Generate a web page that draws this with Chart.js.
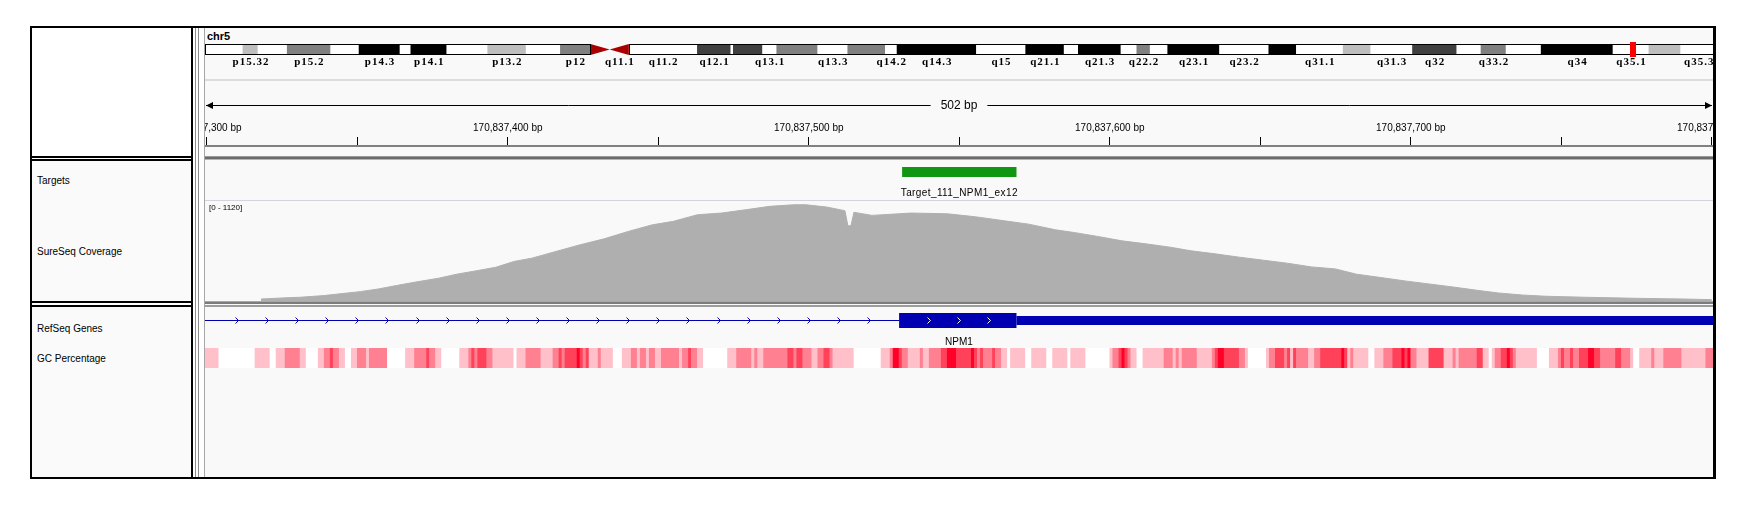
<!DOCTYPE html>
<html>
<head>
<meta charset="utf-8">
<title>chr5 NPM1 view</title>
<script src="https://cdn.jsdelivr.net/npm/chart.js@4.4.1/dist/chart.umd.min.js"></script>
<style>
html, body { margin: 0; padding: 0; background: #fff; }
body { position: relative; width: 1748px; height: 509px; overflow: hidden; font-family: "Liberation Sans", Arial, sans-serif; }
.r { position: absolute; }
.lbl { position: absolute; font-size: 10px; line-height: 12px; color: #000; white-space: nowrap; }
canvas { position: absolute; }
</style>
</head>
<body>
<!-- outer frame, name panels -->
<div class="r" style="left:30px;top:26px;width:1686px;height:453px;background:#000"></div>
<div class="r" style="left:32px;top:28px;width:159px;height:128px;background:#fff"></div>
<div class="r" style="left:32px;top:158px;width:159px;height:1px;background:#fff"></div>
<div class="r" style="left:32px;top:161px;width:159px;height:140px;background:#fafafa"></div>
<div class="r" style="left:32px;top:303px;width:159px;height:2px;background:#fff"></div>
<div class="r" style="left:32px;top:307px;width:159px;height:170px;background:#fafafa"></div>
<!-- split pane divider -->
<div class="r" style="left:193px;top:28px;width:12px;height:449px;background:#fff"></div>
<div class="r" style="left:195px;top:28px;width:1px;height:449px;background:#8c8c8c"></div>
<div class="r" style="left:198px;top:28px;width:1px;height:449px;background:#8c8c8c"></div>
<div class="r" style="left:204px;top:28px;width:1px;height:449px;background:#a6a6a6"></div>
<!-- data panels -->
<div class="r" style="left:205px;top:28px;width:1508px;height:449px;background:#f9f9f9"></div>
<div class="r" style="left:205px;top:79px;width:1508px;height:2px;background:#dcdcdc"></div>
<div class="r" style="left:205px;top:156px;width:1508px;height:1px;background:#9a9a9a"></div>
<div class="r" style="left:205px;top:157px;width:1508px;height:2px;background:#6c6c6c"></div>
<div class="r" style="left:205px;top:159px;width:1508px;height:1px;background:#b4b4b4"></div>
<div class="r" style="left:205px;top:200px;width:1508px;height:1px;background:#d4d4dc"></div>
<div class="r" style="left:205px;top:301px;width:1508px;height:1px;background:#a8a8a8"></div>
<div class="r" style="left:205px;top:302px;width:1508px;height:2px;background:#7c7c7c"></div>
<div class="r" style="left:205px;top:305px;width:1508px;height:2px;background:#9c9c9c"></div>

<div class="lbl" style="left:207px;top:30px;font-size:11px;font-weight:bold;line-height:13px">chr5</div>
<div class="lbl" style="left:37px;top:175px">Targets</div>
<div class="lbl" style="left:37px;top:246px">SureSeq Coverage</div>
<div class="lbl" style="left:37px;top:323px">RefSeq Genes</div>
<div class="lbl" style="left:37px;top:353px">GC Percentage</div>

<canvas id="ideo" width="1508" height="30" style="left:205px;top:38px"></canvas>
<canvas id="ruler" width="1508" height="115" style="left:205px;top:85px"></canvas>
<canvas id="target" width="1508" height="39" style="left:205px;top:161px"></canvas>
<canvas id="cov" width="1508" height="100" style="left:205px;top:201px"></canvas>
<canvas id="gene" width="1508" height="40" style="left:205px;top:308px"></canvas>
<canvas id="gc" width="1508" height="20" style="left:205px;top:348px"></canvas>

<script>
// view window, bp offsets from 170,837,000 on chr5
const posOffset = 170837000;
const viewStart = 299.4;
const viewEnd = 800.4;
const rulerTicks = [300, 350, 400, 450, 500, 550, 600, 650, 700, 750, 800];
const rulerLabelStep = 100;

// chr5 cytobands (Mb)
const bandNames = ['p15.33','p15.32','p15.31','p15.2','p15.1','p14.3','p14.2','p14.1','p13.3','p13.2','p13.1','p12','p11',
  'q11.1','q11.2','q12.1','q12.2','q12.3','q13.1','q13.2','q13.3','q14.1','q14.2','q14.3','q15','q21.1','q21.2','q21.3',
  'q22.1','q22.2','q22.3','q23.1','q23.2','q23.3','q31.1','q31.2','q31.3','q32','q33.1','q33.2','q33.3','q34','q35.1','q35.2','q35.3'];
const bandStarts = [0,4.5,6.3,9.8,15.0,18.4,23.3,24.6,28.9,33.8,38.4,42.5,46.1,
  48.4,50.7,58.9,62.9,63.2,66.7,68.4,73.3,76.9,81.4,82.8,92.3,98.2,102.8,104.5,
  109.6,111.5,113.1,115.2,121.4,127.3,130.6,136.2,139.5,144.5,149.8,152.7,155.7,159.9,168.5,172.8,176.6];
const chromEnd = 180.915;
const bandStains = ['gneg','gpos25','gneg','gpos50','gneg','gpos100','gneg','gpos100','gneg','gpos25','gneg','gpos50','acen',
  'acen','gneg','gpos75','gneg','gpos75','gneg','gpos50','gneg','gpos50','gneg','gpos100','gneg','gpos100','gneg','gpos100',
  'gneg','gpos50','gneg','gpos100','gneg','gpos100','gneg','gpos25','gneg','gpos75','gneg','gpos50','gneg','gpos100','gneg','gpos25','gneg'];
const bandLabels = ['p15.32','p15.2','p14.3','p14.1','p13.2','p12','q11.1','q11.2','q12.1','q13.1','q13.3','q14.2','q14.3',
  'q15','q21.1','q21.3','q22.2','q23.1','q23.2','q31.1','q31.3','q32','q33.2','q34','q35.1','q35.3'];
const ideoRange = [-0.04, 180.47];
const markerMb = 170.8375;

// target track
const targetName = 'Target_111_NPM1_ex12';
const targetStart = 531;
const targetEnd = 569;

// coverage (bp, reads)
const covMax = 1120;
const covPos = [318,325,331,339,345,351,357,363,369,377,383,390,396,402,408,416,424,432,440,448,
  455,463,471,479,487,495,499,506,512,513,514,515,521,534,546,554,557,565,573,582,
  588,596,604,612,620,627,635,643,651,659,667,675,682,690,698,706,714,722,729,737,
  745,758,775,791,800];
const covVal = [22,34,42,61,83,105,135,173,210,255,300,341,378,442,480,555,629,696,779,853,
  892,966,985,1022,1060,1078,1078,1052,1011,842,842,993,959,985,977,948,936,898,861,797,
  768,723,674,640,603,562,528,491,457,423,382,359,300,263,225,191,157,120,90,67,
  53,42,30,22,15];

// RefSeq gene
const geneName = 'NPM1';
const partStart = [299, 530, 569];
const partEnd = [530, 569, 801];
const partKind = ['intron', 'cds', 'utr'];

// GC percentage runs (start bp, level 0-4), each run ends where the next starts
const gcStart = [
  299,304,316,321,323,326,331,333,337,339, 341,342,344,346,348,350,353,354,360,366,
  369,373,374,376,378,384,387,388,389,390, 393,395,402,403,406,411,415,417,418,419,
  423,424,425,426,427,430,431,435,438,441, 443,444,446,447,449,451,457,458,460,461,
  463,465,473,476,481,482,483,485,493,495, 496,498,501,503,505,507,508,515,524,527,
  528,530,531,533,537,538,540,544,546,549, 554,555,556,557,558,561,562,564,566,567,
  572,574,579,581,586,587,592,600,601,603, 604,605,606,607,609,611,618,621,622,623,
  624,629,634,635,636,638,643,645,646,652, 653,655,658,659,660,661,662,666,668,670,
  677,678,679,680,681,686,688,691,694,697, 698,699,700,702,706,711,714,715,716,722,
  724,726,727,728,730,732,733,734,735,742, 746,749,750,751,753,754,756,759,761,763,
  768,770,773,774,776,780,781,784,790,798];
const gcLevel = [
  1,0,1,0,1,2,1,0,1,2, 3,2,1,0,1,2,1,2,0,1,
  2,3,2,1,0,1,2,3,2,3, 2,1,0,1,2,1,2,3,2,3,
  4,3,2,3,1,2,1,0,1,2, 1,2,1,2,1,2,1,2,3,2,
  1,0,1,2,1,2,1,2,3,2, 3,2,1,2,3,2,1,0,1,2,
  4,3,2,1,2,1,2,3,4,3, 4,3,2,3,2,3,2,1,0,1,
  0,1,0,1,0,1,0,1,2,3, 4,3,2,1,0,1,2,1,2,1,
  2,1,2,3,4,3,2,1,0,1, 2,3,2,3,1,3,2,1,2,3,
  4,3,1,2,1,0,1,2,3,4, 3,4,2,1,3,1,2,1,2,3,
  1,0,1,2,3,4,3,2,1,0, 1,2,3,2,3,2,3,4,3,2,
  3,2,1,0,1,2,1,2,1,2];

const stainColors = { gneg: '#ffffff', gpos25: '#bebebe', gpos50: '#808080', gpos75: '#404040', gpos100: '#000000', acen: 'rgba(0,0,0,0)' };
const gcColors = ['#ffffff', 'rgb(255,192,202)', 'rgb(255,128,145)', 'rgb(255,66,90)', 'rgb(255,0,40)'];
const geneColor = 'rgb(0,0,178)';
const sansFont = '"Liberation Sans", Arial, sans-serif';

Chart.defaults.font.family = sansFont;
Chart.defaults.font.size = 10;
Chart.defaults.color = '#000';

function common(padding) {
    return {
        responsive: false,
        animation: false,
        devicePixelRatio: 1,
        events: [],
        layout: { autoPadding: false, padding: padding || 0 },
        plugins: { legend: { display: false }, tooltip: { enabled: false } }
    };
}

function bpAxis() {
    return { type: 'linear', min: viewStart, max: viewEnd, bounds: 'data', display: false, stacked: false };
}

// ideogram
var ideoPlugin = {
    id: 'ideoDeco',
    afterDatasetsDraw: function (chart) {
        var ctx = chart.ctx, xs = chart.scales.x, area = chart.chartArea;
        var top = area.top, bottom = area.bottom, mid = (top + bottom) / 2;
        var px = function (v) { return xs.getPixelForValue(v); };
        ctx.save();
        var cenStart = null, cenEnd = null;
        bandStains.forEach(function (st, i) {
            if (st !== 'acen') return;
            var s = px(bandStarts[i]);
            var e = px(i + 1 < bandStarts.length ? bandStarts[i + 1] : chromEnd);
            ctx.fillStyle = 'rgb(168,0,0)';
            ctx.beginPath();
            if (bandNames[i].charAt(0) === 'p') {
                ctx.moveTo(s, top); ctx.lineTo(s, bottom); ctx.lineTo(e, mid);
                cenStart = bandStarts[i];
            } else {
                ctx.moveTo(e, top); ctx.lineTo(e, bottom); ctx.lineTo(s, mid);
                cenEnd = i + 1 < bandStarts.length ? bandStarts[i + 1] : chromEnd;
            }
            ctx.closePath();
            ctx.fill();
        });
        ctx.strokeStyle = '#000';
        ctx.lineWidth = 1;
        ctx.strokeRect(Math.round(px(0)) + 0.5, top + 0.5, Math.round(px(cenStart) - px(0)), bottom - top - 1);
        ctx.strokeRect(Math.round(px(cenEnd)) + 0.5, top + 0.5, Math.round(px(chromEnd) - px(cenEnd)), bottom - top - 1);

        ctx.font = 'bold 11px "Liberation Serif", serif';
        ctx.letterSpacing = '1px';
        ctx.fillStyle = '#000';
        ctx.textAlign = 'center';
        ctx.textBaseline = 'middle';
        bandLabels.forEach(function (name) {
            var i = bandNames.indexOf(name);
            var end = i + 1 < bandStarts.length ? bandStarts[i + 1] : chromEnd;
            ctx.fillText(name, px((bandStarts[i] + end) / 2) + 0.5, bottom + 7);
        });

        ctx.fillStyle = '#ff0000';
        ctx.fillRect(Math.round(px(markerMb)) - 3, top - 2, 6, bottom - top + 4);
        ctx.restore();
    }
};

var bandEnds = bandStarts.map(function (s, i) { return i + 1 < bandStarts.length ? bandStarts[i + 1] : chromEnd; });
var ideoOpts = common({ top: 6, bottom: 13 });
ideoOpts.indexAxis = 'y';
ideoOpts.scales = {
    x: { type: 'linear', min: ideoRange[0], max: ideoRange[1], bounds: 'data', display: false, stacked: false },
    y: { type: 'category', display: false }
};
new Chart(document.getElementById('ideo'), {
    type: 'bar',
    data: {
        labels: ['chr5'],
        datasets: [{
            data: bandStarts.map(function (s, i) { return { x: [s, bandEnds[i]], y: 'chr5' }; }),
            backgroundColor: bandStains.map(function (st) { return stainColors[st]; }),
            borderWidth: 0,
            categoryPercentage: 1,
            barPercentage: 1
        }]
    },
    options: ideoOpts,
    plugins: [ideoPlugin]
});

// ruler
var spanBp = Math.round(viewEnd - viewStart) + 1;
var rulerPlugin = {
    id: 'span',
    afterDraw: function (chart) {
        var ctx = chart.ctx, xs = chart.scales.x;
        var left = xs.getPixelForValue(viewStart), right = xs.getPixelForValue(viewEnd);
        var y = 20.5, mid = (left + right) / 2;
        var label = spanBp + ' bp';
        ctx.save();
        ctx.font = '12px ' + sansFont;
        var w = ctx.measureText(label).width;
        ctx.strokeStyle = '#000';
        ctx.fillStyle = '#000';
        ctx.lineWidth = 1;
        ctx.beginPath();
        ctx.moveTo(left + 1, y); ctx.lineTo(mid - w / 2 - 10, y);
        ctx.moveTo(mid + w / 2 + 10, y); ctx.lineTo(right - 1, y);
        ctx.stroke();
        ctx.beginPath();
        ctx.moveTo(left + 1, y); ctx.lineTo(left + 8, y - 3.5); ctx.lineTo(left + 8, y + 3.5); ctx.closePath();
        ctx.moveTo(right - 1, y); ctx.lineTo(right - 8, y - 3.5); ctx.lineTo(right - 8, y + 3.5); ctx.closePath();
        ctx.fill();
        ctx.textAlign = 'center';
        ctx.textBaseline = 'middle';
        ctx.fillText(label, mid, y);
        ctx.restore();
    }
};
var rulerOpts = common({ top: 34, left: 0, right: 0, bottom: 0 });
rulerOpts.scales = {
    x: {
        type: 'linear', position: 'top', min: viewStart, max: viewEnd, bounds: 'data',
        afterBuildTicks: function (s) { s.ticks = rulerTicks.map(function (v) { return { value: v }; }); },
        afterFit: function (s) { s.paddingLeft = 0; s.paddingRight = 0; },
        grid: { drawOnChartArea: false, drawTicks: true, tickLength: 9, color: '#000', tickColor: '#000', lineWidth: 1 },
        border: { display: true, color: '#808080', width: 2 },
        ticks: {
            autoSkip: false, maxRotation: 0, minRotation: 0, padding: 3,
            color: '#000', font: { size: 10 },
            callback: function (v) { return v % rulerLabelStep === 0 ? (posOffset + v).toLocaleString('en-US') + ' bp' : ''; }
        }
    },
    y: { display: false }
};
new Chart(document.getElementById('ruler'), {
    type: 'scatter',
    data: { datasets: [] },
    options: rulerOpts,
    plugins: [rulerPlugin]
});

// targets
var targetPlugin = {
    id: 'targetLabel',
    afterDatasetsDraw: function (chart) {
        var ctx = chart.ctx, xs = chart.scales.x;
        ctx.save();
        ctx.font = '10px ' + sansFont;
        ctx.letterSpacing = '0.4px';
        ctx.fillStyle = '#000';
        ctx.textAlign = 'center';
        ctx.textBaseline = 'middle';
        ctx.fillText(targetName, (xs.getPixelForValue(targetStart) + xs.getPixelForValue(targetEnd)) / 2, 32);
        ctx.restore();
    }
};
var targetOpts = common({ top: 0, bottom: 17 });
targetOpts.indexAxis = 'y';
targetOpts.scales = { x: bpAxis(), y: { type: 'category', display: false } };
new Chart(document.getElementById('target'), {
    type: 'bar',
    data: {
        labels: ['t'],
        datasets: [{
            data: [{ x: [targetStart, targetEnd], y: 't' }],
            backgroundColor: 'rgb(17,150,17)',
            borderWidth: 0,
            barThickness: 10,
            inflateAmount: 0
        }]
    },
    options: targetOpts,
    plugins: [targetPlugin]
});

// coverage
var covPlugin = {
    id: 'covRange',
    afterDraw: function (chart) {
        var ctx = chart.ctx;
        ctx.save();
        ctx.font = '8px ' + sansFont;
        ctx.fillStyle = '#000';
        ctx.textBaseline = 'middle';
        ctx.fillText('[0 - ' + covMax + ']', 4, 7);
        ctx.restore();
    }
};
var covOpts = common(0);
covOpts.scales = { x: bpAxis(), y: { min: 0, max: covMax, bounds: 'data', display: false } };
new Chart(document.getElementById('cov'), {
    type: 'line',
    data: {
        datasets: [{
            data: covPos.map(function (p, i) { return { x: p, y: covVal[i] }; }),
            fill: 'origin',
            backgroundColor: 'rgb(175,175,175)',
            borderColor: 'rgb(175,175,175)',
            borderWidth: 1,
            pointRadius: 0,
            tension: 0
        }]
    },
    options: covOpts,
    plugins: [covPlugin]
});

// RefSeq gene
var genePlugin = {
    id: 'geneDeco',
    afterDatasetsDraw: function (chart) {
        var ctx = chart.ctx, xs = chart.scales.x, area = chart.chartArea;
        var yc = (area.top + area.bottom) / 2;
        ctx.save();
        ctx.lineWidth = 1;
        for (var p = 310; p < viewEnd; p += 10) {
            var k = -1;
            for (var j = 0; j < partStart.length; j++) {
                if (p > partStart[j] && p < partEnd[j]) k = j;
            }
            if (k < 0 || partKind[k] === 'utr') continue;
            var x = Math.round(xs.getPixelForValue(p)) + 0.5;
            ctx.strokeStyle = partKind[k] === 'cds' ? '#ffffff' : geneColor;
            ctx.beginPath();
            ctx.moveTo(x - 2, yc - 3); ctx.lineTo(x + 1, yc); ctx.lineTo(x - 2, yc + 3);
            ctx.stroke();
        }
        var gs = Math.max(partStart[0], viewStart), ge = Math.min(partEnd[partEnd.length - 1], viewEnd);
        ctx.font = '10px ' + sansFont;
        ctx.fillStyle = '#000';
        ctx.textAlign = 'center';
        ctx.textBaseline = 'middle';
        ctx.fillText(geneName, (xs.getPixelForValue(gs) + xs.getPixelForValue(ge)) / 2, 34);
        ctx.restore();
    }
};
var partThickness = { intron: 1, cds: 15, utr: 9 };
var geneOpts = common({ top: 0, bottom: 15 });
geneOpts.indexAxis = 'y';
geneOpts.scales = { x: bpAxis(), y: { type: 'category', display: false, stacked: true } };
new Chart(document.getElementById('gene'), {
    type: 'bar',
    data: {
        labels: ['g'],
        datasets: partKind.map(function (kind, i) {
            return {
                data: [{ x: [partStart[i], partEnd[i]], y: 'g' }],
                backgroundColor: geneColor,
                borderWidth: 0,
                barThickness: partThickness[kind],
                inflateAmount: 0
            };
        })
    },
    options: geneOpts,
    plugins: [genePlugin]
});

// GC percentage
var gcOpts = common(0);
gcOpts.indexAxis = 'y';
gcOpts.scales = { x: bpAxis(), y: { type: 'category', display: false } };
new Chart(document.getElementById('gc'), {
    type: 'bar',
    data: {
        labels: ['gc'],
        datasets: [{
            data: gcStart.map(function (s, i) {
                var e = i + 1 < gcStart.length ? gcStart[i + 1] : viewEnd + 1;
                return { x: [s, e], y: 'gc' };
            }),
            backgroundColor: gcLevel.map(function (l) { return gcColors[l]; }),
            borderWidth: 0,
            categoryPercentage: 1,
            barPercentage: 1
        }]
    },
    options: gcOpts
});
</script>
</body>
</html>
